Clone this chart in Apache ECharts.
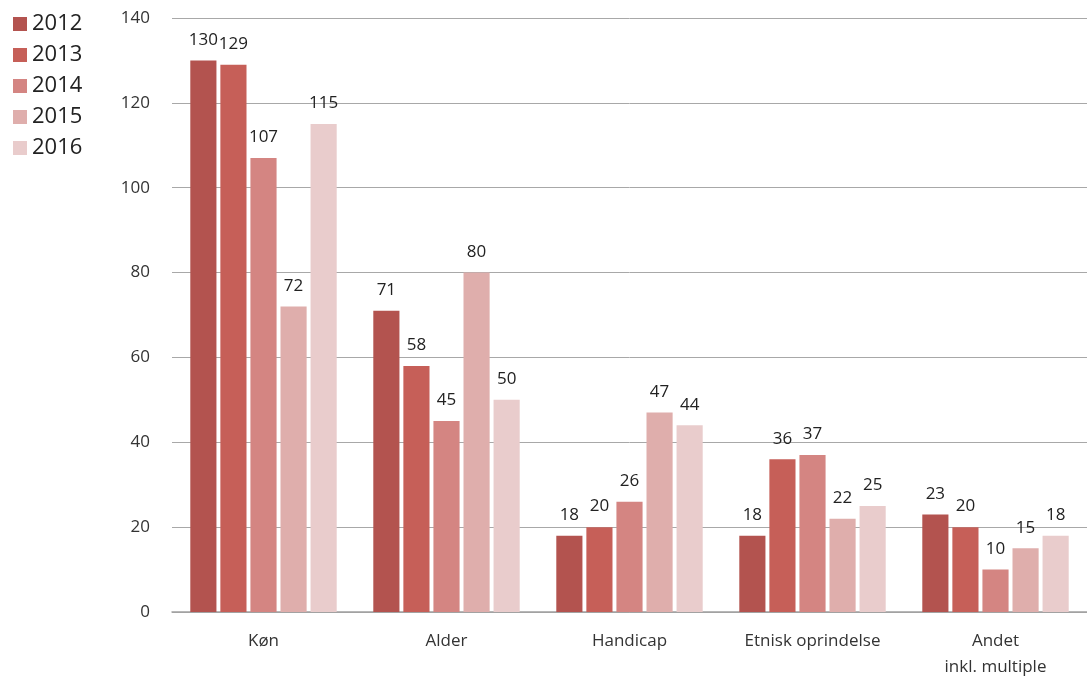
<!DOCTYPE html>
<html><head><meta charset="utf-8">
<script src="https://cdn.jsdelivr.net/npm/echarts@6/dist/echarts.min.js"></script>
<style>html,body{margin:0;padding:0;background:#fff}#c{width:1087px;height:680px}</style>
</head><body><div id="c"></div>
<script>
const categories = ['Køn', 'Alder', 'Handicap', 'Etnisk oprindelse', 'Andet\ninkl. multiple'];
const years = ['2012', '2013', '2014', '2015', '2016'];
const v2012 = [130, 71, 18, 18, 23];
const v2013 = [129, 58, 20, 36, 20];
const v2014 = [107, 45, 26, 37, 10];
const v2015 = [72, 80, 47, 22, 15];
const v2016 = [115, 50, 44, 25, 18];
const yTicks = [0, 20, 40, 60, 80, 100, 120, 140];

const colors = ['#b3534f', '#c65f58', '#d48582', '#dfaeac', '#e9cccc'];
const values = [v2012, v2013, v2014, v2015, v2016];
const chart = echarts.init(document.getElementById('c'));
const font = 'Open Sans';
chart.setOption({
  animation: false,
  textStyle: {fontFamily: font},
  legend: {
    orient: 'vertical', left: 8, top: 8, itemWidth: 14, itemHeight: 14, itemGap: 9,
    icon: 'rect',
    textStyle: {fontSize: 22, color: '#222', fontFamily: font},
    data: years
  },
  grid: {left: 172, right: 0, top: 18, bottom: 68},
  xAxis: {
    type: 'category', data: categories,
    axisLine: {lineStyle: {color: '#a0a0a0', width: 1.5}},
    axisTick: {show: false},
    axisLabel: {fontSize: 17, color: '#333', margin: 16, lineHeight: 26, fontFamily: font}
  },
  yAxis: {
    type: 'value', min: 0, max: 140, interval: 20,
    axisLine: {show: false}, axisTick: {show: false},
    axisLabel: {fontSize: 17, color: '#333', margin: 22, fontFamily: font,
      formatter: v => yTicks.includes(v) ? String(v) : ''},
    splitLine: {lineStyle: {color: '#a8a8a8', width: 1}}
  },
  series: years.map((y, i) => ({
    name: y, type: 'bar', data: values[i],
    itemStyle: {color: colors[i]},
    barGap: '15%', barCategoryGap: '20%',
    label: {show: true, position: 'top', fontSize: 17, color: '#222', distance: 12, fontFamily: font}
  }))
});
</script></body></html>
